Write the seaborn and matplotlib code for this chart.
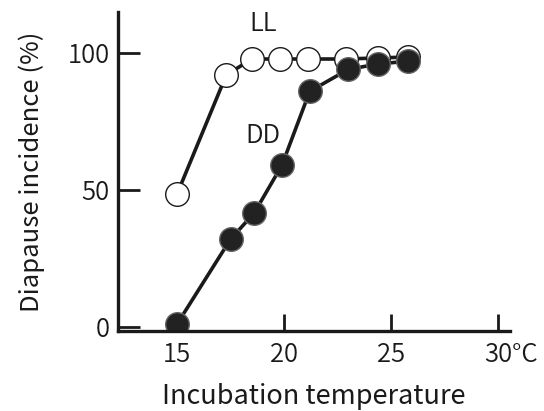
import matplotlib
matplotlib.use("Agg")
import matplotlib.pyplot as plt
import matplotlib.transforms as mtransforms
import seaborn as sns
import pandas as pd

ll_temp = [15.0, 17.3, 18.5, 19.8, 21.1, 22.9, 24.4, 25.8]
ll_incidence = [48.5, 92.0, 97.8, 97.8, 97.8, 97.8, 98.2, 98.5]
dd_temp = [15.0, 17.5, 18.6, 19.9, 21.2, 23.0, 24.4, 25.8]
dd_incidence = [1.0, 32.0, 41.5, 59.0, 86.0, 94.0, 96.0, 97.0]
x_ticks = [15, 20, 25, 30]
x_labels = ["15", "20", "25", "30°C"]
y_ticks = [0, 50, 100]

ll = pd.DataFrame({"temp": ll_temp, "inc": ll_incidence})
dd = pd.DataFrame({"temp": dd_temp, "inc": dd_incidence})

sns.set_style("ticks")
plt.rcParams["font.family"] = ["Noto Sans CJK JP", "DejaVu Sans"]
plt.rcParams["font.weight"] = 350
ink = "#1a1a1a"

fig = plt.figure(figsize=(5.44, 4.11), dpi=100)
ax = fig.add_axes([0.217, 0.195, 0.7205, 0.776])

sns.lineplot(data=ll, x="temp", y="inc", ax=ax, color=ink, linewidth=2.6,
             marker="o", markersize=17, markerfacecolor="white",
             markeredgecolor=ink, markeredgewidth=1.0)
sns.lineplot(data=dd, x="temp", y="inc", ax=ax, color=ink, linewidth=2.6,
             marker="o", markersize=17, markerfacecolor="#222222",
             markeredgecolor="#666666", markeredgewidth=1.0)

ax.set_xlim(12.24, 30.56)
ax.set_ylim(-1.5, 115)
ax.set_xticks(x_ticks)
ax.set_xticklabels(x_labels)
ax.set_yticks(y_ticks)
ax.tick_params(axis="y", direction="in", length=16, width=2, pad=6, labelsize=18.5, colors=ink)
ax.tick_params(axis="x", direction="in", length=12, width=2, pad=8, labelsize=18.5, colors=ink)
last = ax.get_xticklabels()[-1]
last.set_transform(last.get_transform() + mtransforms.ScaledTranslation(13 / 100, 0, fig.dpi_scale_trans))

for s in ["top", "right"]:
    ax.spines[s].set_visible(False)
for s in ["left", "bottom"]:
    ax.spines[s].set_linewidth(2.4)
    ax.spines[s].set_color(ink)

ax.set_xlabel("Incubation temperature", fontsize=19.5, color=ink, labelpad=11)
ax.set_ylabel("Diapause incidence (%)", fontsize=18.5, color=ink, labelpad=16)

ax.text(19.0, 110.6, "LL", fontsize=18.5, color=ink, ha="center", va="center")
ax.text(19.0, 69.7, "DD", fontsize=18.5, color=ink, ha="center", va="center")

fig.savefig("out.png", dpi=100)
